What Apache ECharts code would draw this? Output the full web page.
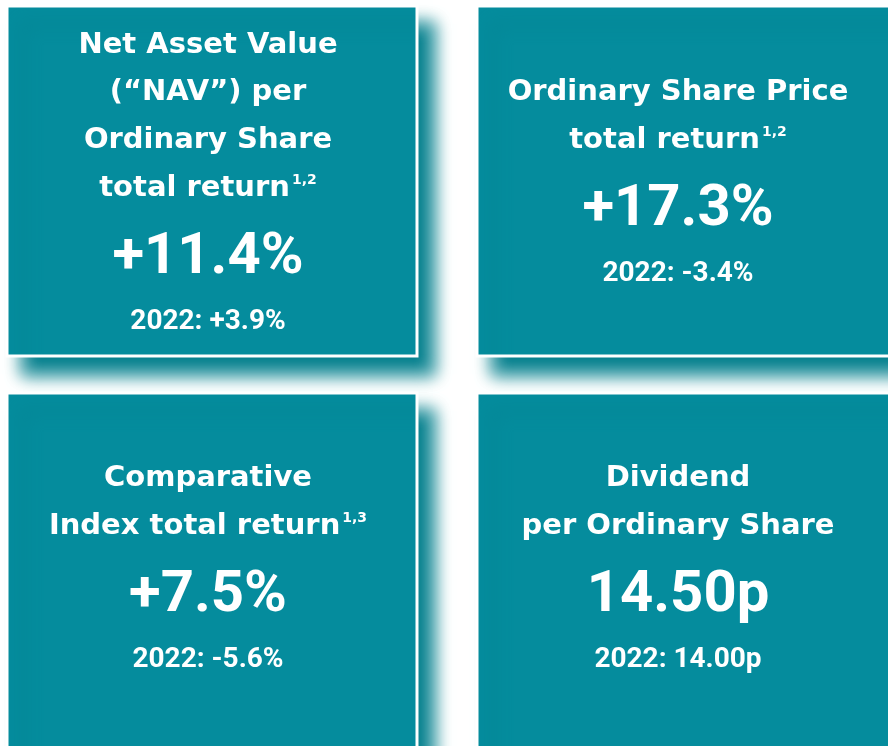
<!DOCTYPE html>
<html><head><meta charset="utf-8">
<script src="https://cdn.jsdelivr.net/npm/echarts@6/dist/echarts.min.js"></script>
<style>html,body{margin:0;padding:0;background:#fff;overflow:hidden}#c{width:888px;height:746px}</style>
</head><body><div id="c"></div>
<script>
// ---- data ----
const titleLines = [
  ['Net Asset Value', '(“NAV”) per', 'Ordinary Share', 'total return'],
  ['Ordinary Share Price', 'total return'],
  ['Comparative', 'Index total return'],
  ['Dividend', 'per Ordinary Share']
];
const footnotes = ['1,2', '1,2', '1,3', ''];
const values2023 = [11.4, 17.3, 7.5, 14.50];
const values2022 = [3.9, -3.4, -5.6, 14.00];
const units = ['%', '%', '%', 'p'];
const priorYearLabel = '2022';

// ---- layout ----
const tiles = [
  {x: 7,   y: 6,   w: 410, h: 350, cx: 208, top: 45},
  {x: 477, y: 6,   w: 430, h: 350, cx: 678, top: 92.5},
  {x: 7,   y: 393, w: 410, h: 360, cx: 208, top: 478.5},
  {x: 477, y: 393, w: 430, h: 360, cx: 678, top: 478.5}
];
const lineGap = 47.8, valueGap = 70.5, priorGap = 63;
const TEAL = '#058c9d';
const titleFont = 'DejaVu Sans';
const numFont = 'Roboto';

function fmt(v, unit, signed) {
  if (unit === 'p') return v.toFixed(2) + 'p';
  const s = v.toFixed(1) + '%';
  return (v > 0 && signed) ? '+' + s : s;
}

const elements = [];
tiles.forEach((t, i) => {
  elements.push({
    type: 'rect', z: 1,
    shape: {x: t.x, y: t.y, width: t.w, height: t.h},
    style: {fill: TEAL, stroke: '#ffffff', lineWidth: 3,
      shadowBlur: 16, shadowOffsetX: 16, shadowOffsetY: 18, shadowColor: 'rgba(5,128,142,1)'}
  });
});
tiles.forEach((t, i) => {
  const lines = titleLines[i];
  lines.forEach((ln, j) => {
    const last = j === lines.length - 1;
    const txt = '{t|' + ln + '}' + (last && footnotes[i] ? '{s|' + footnotes[i] + '}' : '');
    elements.push({
      type: 'text', z: 5,
      x: t.cx, y: t.top + j * lineGap,
      style: {
        text: txt, align: 'center', verticalAlign: 'middle', fill: '#fff',
        rich: {
          t: {fontFamily: titleFont, fontWeight: 'bold', fontSize: 29, lineHeight: 30, fill: '#fff'},
          s: {fontFamily: titleFont, fontWeight: 'bold', fontSize: 14, lineHeight: 14, fill: '#fff', verticalAlign: 'top', padding: [0, 0, 0, 2]}
        }
      }
    });
  });
  const vy = t.top + (lines.length - 1) * lineGap + valueGap;
  elements.push({
    type: 'text', z: 5, x: t.cx, y: vy,
    style: {text: fmt(values2023[i], units[i], true), align: 'center', verticalAlign: 'middle',
      fill: '#fff', fontFamily: numFont, fontWeight: 'bold', fontSize: 58}
  });
  elements.push({
    type: 'text', z: 5, x: t.cx, y: vy + priorGap,
    style: {text: priorYearLabel + ': ' + fmt(values2022[i], units[i], true), align: 'center', verticalAlign: 'middle',
      fill: '#fff', fontFamily: numFont, fontWeight: 'bold', fontSize: 28}
  });
});

const chart = echarts.init(document.getElementById('c'), null, {renderer: 'canvas'});
chart.setOption({animation: false, backgroundColor: '#ffffff', graphic: {elements}});
</script></body></html>
